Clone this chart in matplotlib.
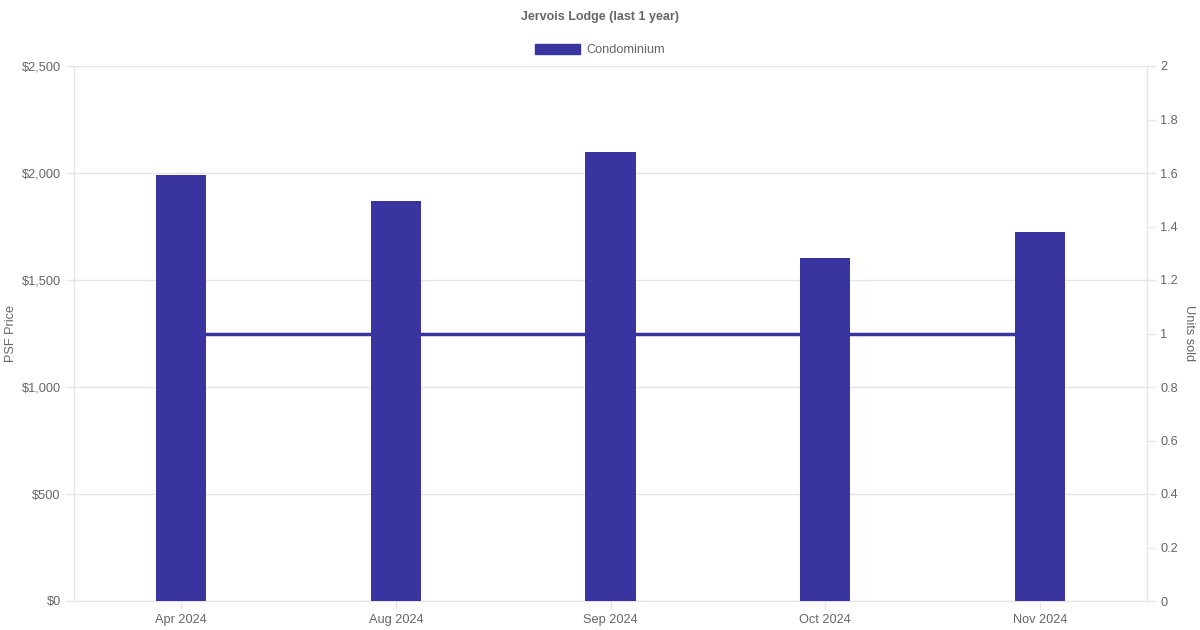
import matplotlib
matplotlib.use('Agg')
import matplotlib.pyplot as plt
from matplotlib.patches import Patch

plt.rcParams['font.family'] = ['Liberation Sans', 'DejaVu Sans']

months = ['Apr 2024', 'Aug 2024', 'Sep 2024', 'Oct 2024', 'Nov 2024']
psf_price = [1991, 1869, 2098, 1603, 1724]
units_sold = [1, 1, 1, 1, 1]

bar_col = '#3a34a0'
txt_col = '#666666'
grid_col = '#e5e5e5'

fig = plt.figure(figsize=(12, 6.3), dpi=100)
ax = fig.add_axes([74/1200, 29/630, 1073/1200, 535/630])
ax2 = ax.twinx()

x = list(range(len(months)))
ax.set_zorder(ax2.get_zorder() + 1)
ax.patch.set_visible(False)

ax2.plot(x, units_sold, color=bar_col, lw=2.5, zorder=2)
ax.bar(x, psf_price, width=0.233, color=bar_col, zorder=3)

ax.set_xlim(-0.5, len(months) - 0.5)
ax.set_ylim(0, 2500)
ax.set_yticks(range(0, 2501, 500))
ax.set_yticklabels(['${:,}'.format(v) for v in range(0, 2501, 500)])
ax2.set_ylim(0, 2)
ax2.set_yticks([i / 5 for i in range(11)])
ax2.set_yticklabels(['0', '0.2', '0.4', '0.6', '0.8', '1', '1.2', '1.4', '1.6', '1.8', '2'])

ax.set_xticks(x)
ax.set_xticklabels(months)

ax.grid(axis='y', color=grid_col, lw=1, zorder=0)
ax2.grid(False)

for a in (ax, ax2):
    for s in a.spines.values():
        s.set_color(grid_col)
    a.tick_params(colors=txt_col, labelsize=9.2, length=6, width=1)
    a.tick_params(axis='both', color=grid_col, labelcolor=txt_col)
ax.spines['top'].set_visible(False)
ax2.spines['top'].set_visible(False)

ax.set_ylabel('PSF Price', color=txt_col, fontsize=9.2, va='center')
ax.yaxis.set_label_coords(-0.0587, 0.5)
ax2.set_ylabel('Units sold', color=txt_col, fontsize=9.2, rotation=270, va='center')
ax2.yaxis.set_label_coords(1.039, 0.5)

fig.text(0.5, 1 - 17/630, 'Jervois Lodge (last 1 year)', ha='center', va='center',
         fontsize=9, fontweight='bold', color=txt_col)

leg = ax.legend(handles=[Patch(facecolor=bar_col, edgecolor=bar_col, label='Condominium')],
                loc='center', bbox_to_anchor=(0.5, 1 - 50/630), bbox_transform=fig.transFigure,
                frameon=False, fontsize=9.2, handlelength=3.5, handleheight=0.9, handletextpad=0.5)
for t in leg.get_texts():
    t.set_color(txt_col)

fig.savefig('out.png', dpi=100)
